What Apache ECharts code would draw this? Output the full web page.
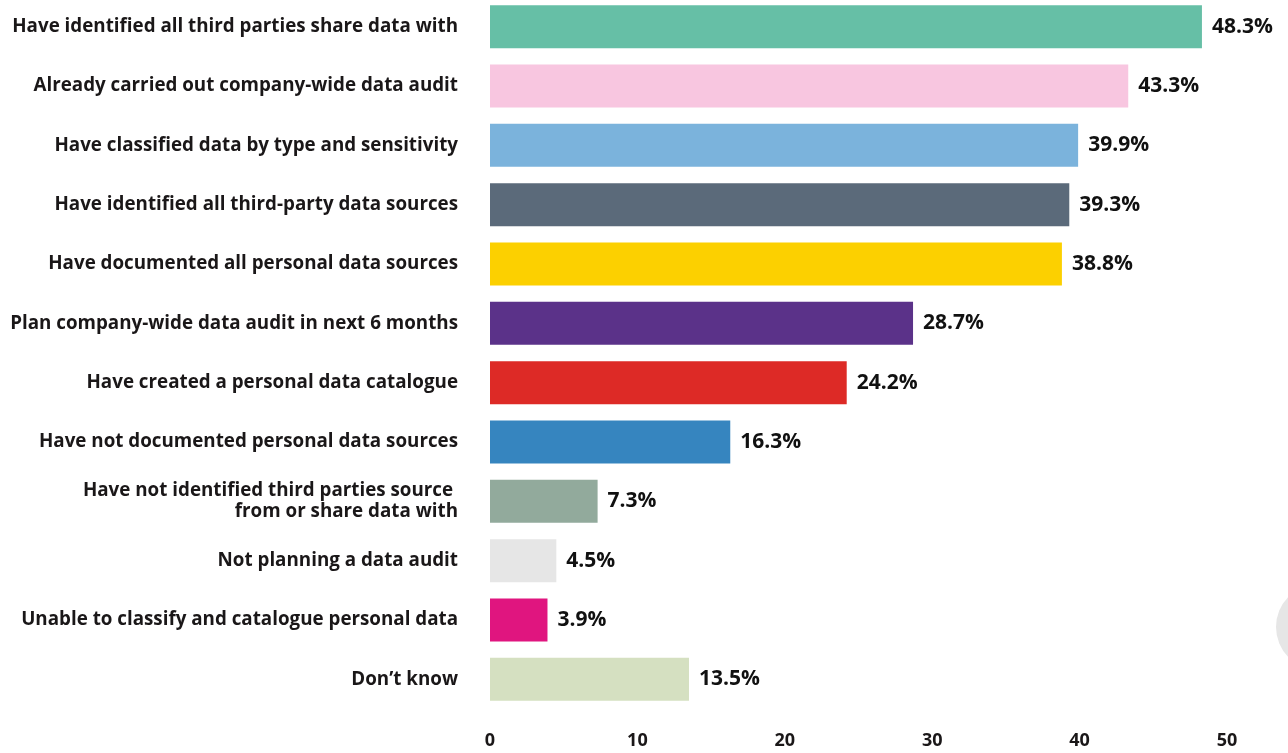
<!DOCTYPE html>
<html>
<head>
<meta charset="utf-8">
<script src="https://cdn.jsdelivr.net/npm/echarts@6/dist/echarts.min.js"></script>
<style>
  html, body { margin: 0; padding: 0; background: #ffffff; }
  #chart { width: 1288px; height: 753px; }
</style>
</head>
<body>
<div id="chart"></div>
<script>
// Survey responses on data audit readiness (% of respondents)
const categories = [
  'Have identified all third parties share data with',
  'Already carried out company-wide data audit',
  'Have classified data by type and sensitivity',
  'Have identified all third-party data sources',
  'Have documented all personal data sources',
  'Plan company-wide data audit in next 6 months',
  'Have created a personal data catalogue',
  'Have not documented personal data sources',
  'Have not identified third parties source \nfrom or share data with',
  'Not planning a data audit',
  'Unable to classify and catalogue personal data',
  'Don\u2019t know'
];
const values = [48.3, 43.3, 39.9, 39.3, 38.8, 28.7, 24.2, 16.3, 7.3, 4.5, 3.9, 13.5];
const barColors = ['#66bfa6', '#f8c6e0', '#7bb3dc', '#5b6a7a', '#fcd000', '#5b3289',
                   '#dd2a26', '#3685bf', '#92aa9c', '#e6e6e6', '#e0157f', '#d5e0c1'];
const xTicks = [0, 10, 20, 30, 40, 50];

const FONT = '"Open Sans", "Liberation Sans", sans-serif';
const chart = echarts.init(document.getElementById('chart'), null, { renderer: 'canvas' });

chart.setOption({
  backgroundColor: '#ffffff',
  animation: false,
  grid: {
    left: 490, width: 737, top: -3, height: 712,
    containLabel: false,
    outerBoundsMode: 'none'
  },
  xAxis: {
    type: 'value',
    min: xTicks[0],
    max: xTicks[xTicks.length - 1],
    interval: xTicks[1] - xTicks[0],
    axisLine: { show: false },
    axisTick: { show: false },
    splitLine: { show: false },
    axisLabel: {
      margin: 23,
      color: '#1a1718',
      fontFamily: FONT,
      fontWeight: 'bold',
      fontSize: 18
    }
  },
  yAxis: {
    type: 'category',
    inverse: true,
    data: categories,
    axisLine: { show: false },
    axisTick: { show: false },
    axisLabel: {
      margin: 32,
      color: '#1a1718',
      fontFamily: FONT,
      fontWeight: 'bold',
      fontSize: 18.8,
      lineHeight: 21,
      align: 'right'
    }
  },
  series: [{
    type: 'bar',
    barWidth: 43,
    data: values.map((v, i) => ({ value: v, itemStyle: { color: barColors[i] } })),
    label: {
      show: true,
      position: 'right',
      distance: 10,
      formatter: p => p.value.toFixed(1) + '%',
      color: '#111111',
      fontFamily: FONT,
      fontWeight: 'bold',
      fontSize: 21
    }
  }],
  graphic: [{
    type: 'circle',
    shape: { cx: 1319, cy: 627, r: 43 },
    style: { fill: '#e6e6e6' },
    silent: true
  }]
});
</script>
</body>
</html>
